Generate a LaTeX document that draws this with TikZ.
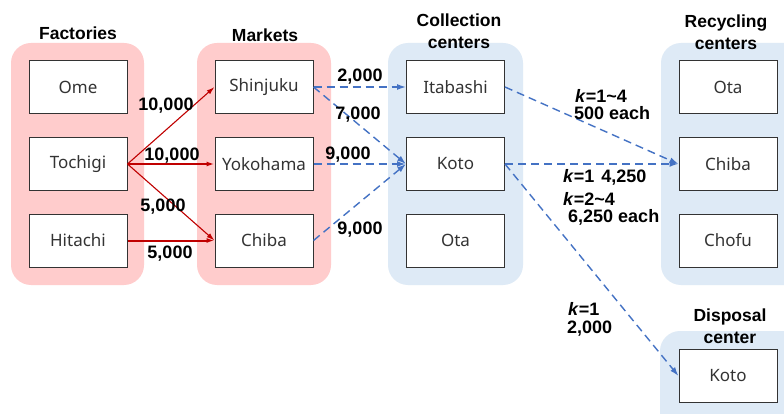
\documentclass[tikz,border=0pt]{standalone}
\usepackage{fontspec}
\setmainfont{Noto Sans}
\newfontfamily\lblfont{Liberation Sans}
\usetikzlibrary{arrows.meta}
\definecolor{pinkbg}{HTML}{FFCCCC}
\definecolor{bluebg}{HTML}{DEEAF6}
\definecolor{redline}{HTML}{C00000}
\definecolor{blueline}{HTML}{4472C4}
\begin{document}
\begin{tikzpicture}[x=1pt,y=-1pt,
  box/.style={draw=black!80, fill=white, line width=1pt, minimum width=98pt, minimum height=53pt, inner sep=0pt, font=\fontsize{17}{19}\selectfont, text=black!80},
  grp/.style={rounded corners=20pt},
  ttl/.style={font=\lblfont\bfseries\fontsize{17.5}{22}\selectfont, align=center, inner sep=0pt},
  lbl/.style={font=\lblfont\bfseries\fontsize{18}{18}\selectfont, inner sep=0pt},
  llbl/.style={lbl, anchor=west},
  rarr/.style={draw=redline, line width=1.1pt, -{Latex[length=8pt,width=5pt]}},
  thick arr/.style={line width=2pt},
  barr/.style={draw=blueline, line width=1.4pt, dash pattern=on 8pt off 5pt, -{Latex[length=9pt,width=6pt]}}]
\clip (0,0) rectangle (784,414);
\fill[white] (0,0) rectangle (784,414);
% groups
\fill[pinkbg, grp] (11,43) rectangle (144,285);
\fill[pinkbg, grp] (197,43) rectangle (331,285);
\fill[bluebg, grp] (388,43) rectangle (523,285);
\fill[bluebg, grp] (661,43) rectangle (810,285);
\fill[bluebg, grp] (660,331) rectangle (810,440);
% titles
\node[ttl] (tf) at (78,33) {Factories};
\node[ttl] (tm) at (265,35) {Markets};
\node[ttl] (tc) at (459,31) {Collection\\centers};
\node[ttl] (tr) at (726,32) {Recycling\\centers};
\node[ttl] (td) at (730,326) {Disposal\\center};
% boxes
\node[box] (ome) at (78,87) {Ome};
\node[box] (toc) at (78,164) {Tochigi};
\node[box] (hit) at (78,240.5) {Hitachi};
\node[box] (shi) at (264,87) {Shinjuku};
\node[box] (yok) at (264,164) {Yokohama};
\node[box] (chm) at (264,240.5) {Chiba};
\node[box] (ita) at (455.5,87) {Itabashi};
\node[box] (kot) at (455.5,164) {Koto};
\node[box] (otc) at (455.5,240.5) {Ota};
\node[box] (otr) at (728,87) {Ota};
\node[box] (chr) at (728,164) {Chiba};
\node[box] (chf) at (728,240.5) {Chofu};
\node[box] (kod) at (728,376) {Koto};
% red flows
\draw[rarr] (toc.east) -- (shi.west);
\draw[rarr, thick arr] (toc.east) -- (yok.west);
\draw[rarr] (toc.east) -- (chm.west);
\draw[rarr, thick arr] (hit.east) -- (chm.west);
% blue flows
\draw[barr] (shi.east) -- (ita.west);
\draw[barr] (shi.east) -- (kot.west);
\draw[barr, thick arr] (yok.east) -- (kot.west);
\draw[barr] (chm.east) -- (kot.west);
\draw[barr] (ita.east) -- (chr.west);
\draw[barr, thick arr] (kot.east) -- (chr.west);
\draw[barr] (kot.east) -- (kod.west);
% labels
\node[lbl] (l1) at (166,106) {10,000};
\node[lbl] (l2) at (172,156) {10,000};
\node[lbl] (l3) at (163,207) {5,000};
\node[lbl] (l4) at (170,254) {5,000};
\node[lbl] (l5) at (360,77) {2,000};
\node[lbl] (l6) at (358,115) {7,000};
\node[lbl] (l7) at (348,155) {9,000};
\node[lbl] (l8) at (360,230) {9,000};
\node[llbl] (l9) at (575,96) {\textit{k}=1\textasciitilde4};
\node[llbl] (l10) at (574,113) {500 each};
\node[llbl] (l11) at (563,177) {\textit{k}=1\hspace{7pt}4,250};
\node[llbl] (l12) at (563,199) {\textit{k}=2\textasciitilde4};
\node[llbl] (l13) at (568,217) {6,250 each};
\node[llbl] (l14) at (568,309) {\textit{k}=1};
\node[llbl] (l15) at (567,329) {2,000};
\end{tikzpicture}
\end{document}
